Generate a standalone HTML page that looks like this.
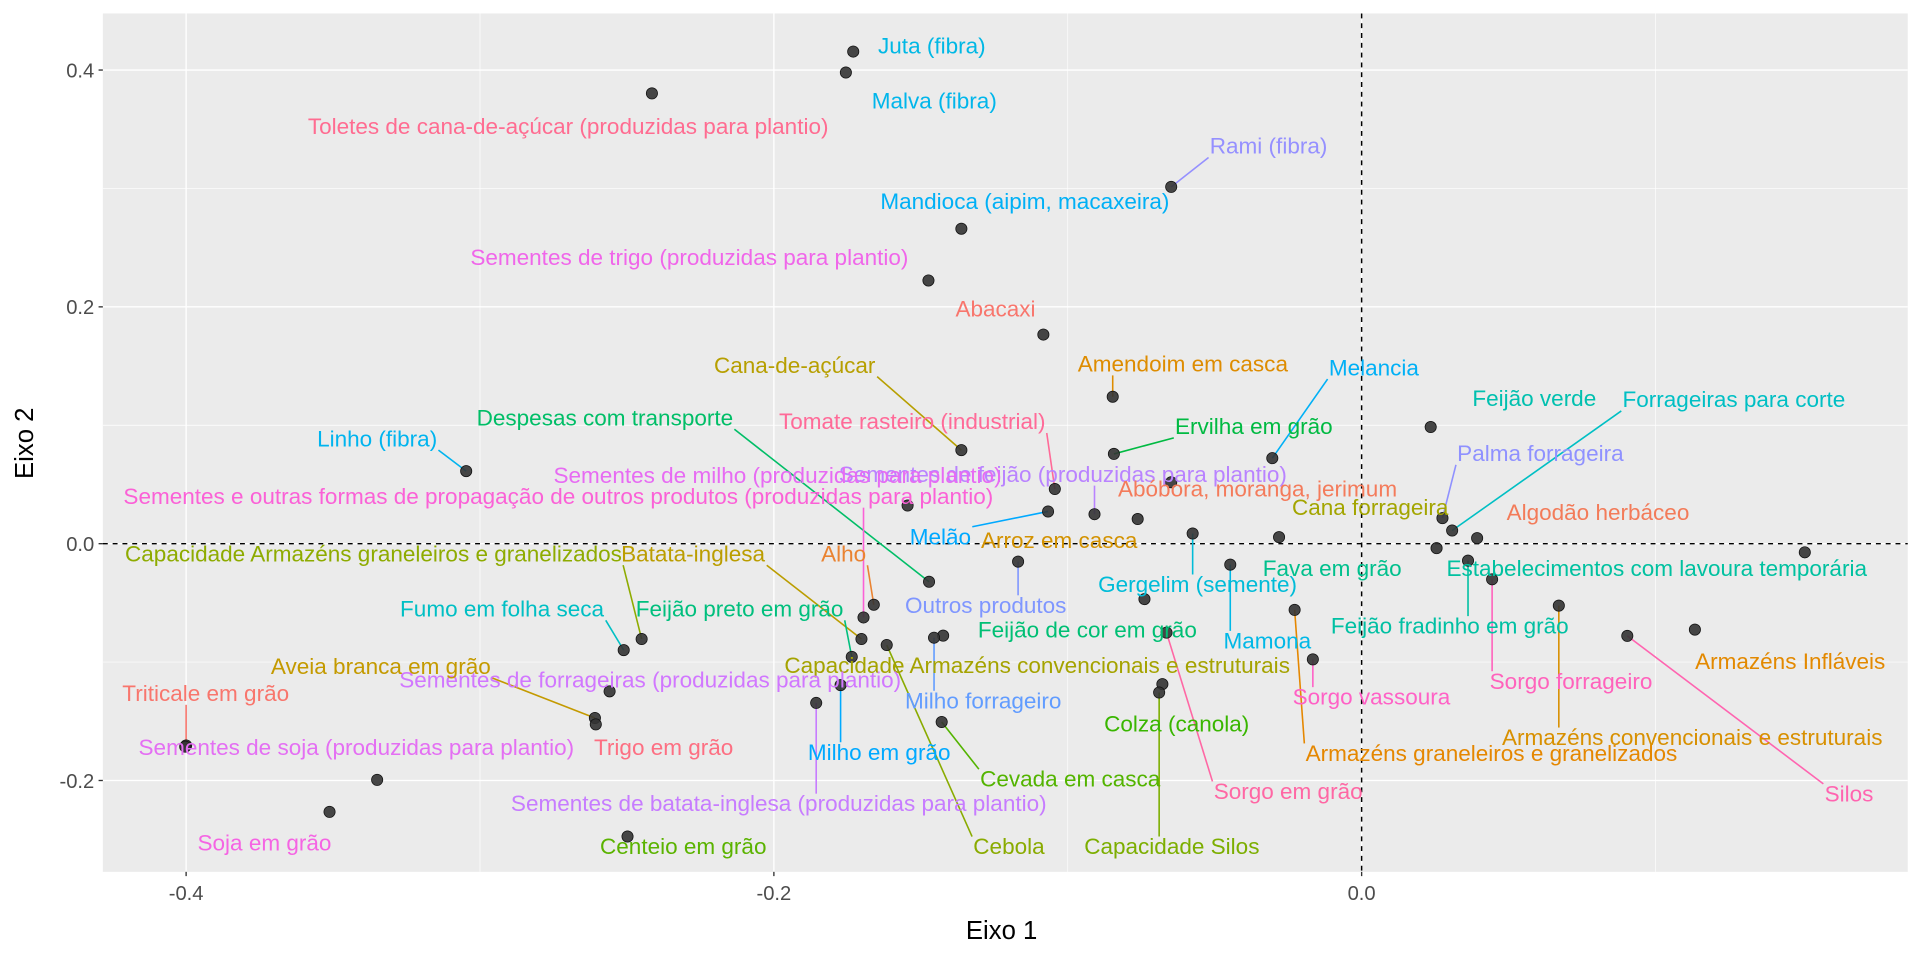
<!DOCTYPE html>
<html><head><meta charset="utf-8"><title>Eixo 1 vs Eixo 2</title>
<style>html,body{margin:0;padding:0;background:#fff;}svg{display:block;font-family:"Liberation Sans",Arial,sans-serif;}</style>
</head><body>
<svg id="chart" width="1920" height="960" viewBox="0 0 1568 784" xmlns="http://www.w3.org/2000/svg">
<rect x="84" y="11" width="1474" height="701" fill="#EBEBEB"/>
<g id="grid"></g>
<g id="axes"></g>
<g id="segs"></g>
<g id="pts"></g>
<g id="labs"></g>
<text x="818" y="767" font-size="21" text-anchor="middle" fill="#000">Eixo 1</text>
<text transform="translate(27,362) rotate(-90)" font-size="21" text-anchor="middle" fill="#000">Eixo 2</text>
</svg>
<script>
const names = ["Juta (fibra)","Malva (fibra)","Toletes de cana-de-açúcar (produzidas para plantio)","Rami (fibra)","Mandioca (aipim, macaxeira)","Sementes de trigo (produzidas para plantio)","Abacaxi","Amendoim em casca","Cana-de-açúcar","Melancia","Feijão verde","Forrageiras para corte","Tomate rasteiro (industrial)","Ervilha em grão","Despesas com transporte","Linho (fibra)","Sementes de feijão (produzidas para plantio)","Palma forrageira","Sementes de milho (produzidas para plantio)","Abóbora, moranga, jerimum","Sementes e outras formas de propagação de outros produtos (produzidas para plantio)","Algodão herbáceo","Cana forrageira","Melão","Arroz em casca","Capacidade Armazéns graneleiros e granelizados","Batata-inglesa","Alho","Outros produtos","Gergelim (semente)","Fava em grão","Estabelecimentos com lavoura temporária","Fumo em folha seca","Feijão preto em grão","Mamona","Feijão de cor em grão","Feijão fradinho em grão","Sorgo forrageiro","Sorgo vassoura","Armazéns Infláveis","Armazéns convencionais e estruturais","Capacidade Armazéns convencionais e estruturais","Sementes de forrageiras (produzidas para plantio)","Aveia branca em grão","Milho forrageiro","Triticale em grão","Colza (canola)","Armazéns graneleiros e granelizados","Silos","Sementes de soja (produzidas para plantio)","Trigo em grão","Milho em grão","Cevada em casca","Sorgo em grão","Sementes de batata-inglesa (produzidas para plantio)","Capacidade Silos","Cebola","Centeio em grão","Soja em grão",""];
const xs = [-0.1730,-0.1755,-0.2415,-0.0648,-0.1362,-0.1474,-0.1083,-0.0847,-0.1362,-0.0304,0.0235,0.0308,-0.1044,-0.0843,-0.1472,-0.3047,-0.0909,0.0275,-0.1545,-0.0648,-0.1695,0.0393,0.0255,-0.1067,-0.0762,-0.2450,-0.1702,-0.1660,-0.1169,-0.0575,-0.0281,0.1508,-0.2511,-0.1735,-0.0447,-0.0739,0.0362,0.0444,-0.0166,0.1134,0.0671,-0.1424,-0.2559,-0.2609,-0.1455,-0.4000,-0.0678,-0.0228,0.0904,-0.4003,-0.2606,-0.1773,-0.1429,-0.0664,-0.1856,-0.0689,-0.1616,-0.2498,-0.3512,-0.3350];
const ys = [0.4156,0.3979,0.3803,0.3013,0.2660,0.2223,0.1766,0.1241,0.0790,0.0722,0.0985,0.0111,0.0462,0.0758,-0.0322,0.0613,0.0249,0.0216,0.0322,0.0519,-0.0623,0.0047,-0.0038,0.0272,0.0208,-0.0805,-0.0805,-0.0516,-0.0152,0.0086,0.0055,-0.0073,-0.0899,-0.0956,-0.0177,-0.0468,-0.0143,-0.0301,-0.0977,-0.0726,-0.0523,-0.0777,-0.1247,-0.1472,-0.0794,-0.1704,-0.1186,-0.0559,-0.0779,-0.1714,-0.1526,-0.1195,-0.1506,-0.0751,-0.1345,-0.1257,-0.0856,-0.2473,-0.2265,-0.1995];
const colors = ["#00B8E5","#00B6EB","#FF6C91","#9590FF","#00B0F6","#F066EA","#F8766D","#DE8C00","#B79F00","#00B0F6","#00C0AF","#00BFC4","#FF6A98","#00BA42","#00BE67","#00B4EF","#B983FF","#8F91FF","#E76BF3","#F47B5B","#FB61D7","#F37B59","#A3A500","#00A9FF","#D39200","#8EAB00","#BB9D00","#EA8331","#7F96FF","#00BCD8","#00C08D","#00C1A0","#00BFC4","#00BF7D","#00B8E7","#00BF74","#00C0A3","#FF62BC","#FF61C6","#E38900","#D89000","#A5A300","#D177FF","#C49A00","#619CFF","#F8766D","#39B600","#E58700","#FF64B0","#E46FF3","#FD6F82","#00A9FF","#53B400","#FF67A4","#C77CFF","#7CAE00","#8AAB00","#5BB300","#F564E3","#000"];
const xTicks = [-0.4,-0.2,0.0];
const xTickLabels = ["-0.4","-0.2","0.0"];
const yTicks = [-0.2,0.0,0.2,0.4];
const yTickLabels = ["-0.2","0.0","0.2","0.4"];
// label layout (repel placement; layout, not data)
const labelPos = [[761,37],[763,82],[464,103],[1036,119],[837,164],[563,210],[813,252],[966,297],[649,298],[1122,300],[1253,325],[1416,326],[745,344],[1024,348],[494,341],[308,358],[868,387],[1258,370],[635,388],[1027,399],[456,405],[1305,418],[1119,414],[768,438],[865,441],[305,452],[566,452],[689,452],[805,494],[978,477],[1088,464],[1353,464],[410,497],[604,497],[1035,523],[888,514],[1184,511],[1283,556],[1120,569],[1462,540],[1382,602],[847,543],[531,555],[311,544],[803,572],[168,566],[961,591],[1218,615],[1510,648],[291,610],[542,610],[718,614],[874,636],[1052,646],[636,656],[957,691],[824,691],[558,691],[216,688],null];
const segFlag = [0,0,0,1,0,0,0,1,1,1,0,1,1,1,1,1,1,1,0,0,1,0,0,1,0,1,1,1,1,1,0,0,1,1,1,0,1,1,1,0,1,0,0,1,1,1,0,1,1,0,0,1,1,1,1,1,1,0,0,0];

const X0=1112, KX=2400, Y0=444, KY=967, L=84, R=1558, T=11, B=712;
const sx = v => X0 + v*KX;
const sy = v => Y0 - v*KY;
const NS="http://www.w3.org/2000/svg";
function mk(tag, attrs, parent){const e=document.createElementNS(NS,tag);for(const k in attrs)e.setAttribute(k,attrs[k]);parent.appendChild(e);return e;}
const grid=document.getElementById('grid'), axes=document.getElementById('axes');
const segs=document.getElementById('segs'), pts=document.getElementById('pts'), labs=document.getElementById('labs');
for(let v=-0.5; v<=0.25; v+=0.1){const p=sx(v); if(p>L&&p<R){const l=mk('line',{x1:p,x2:p,y1:T,y2:B,stroke:'#fff','stroke-width':0.55},grid);

}}
for(let v=-0.3; v<=0.5; v+=0.2){const p=sy(v); if(p>T&&p<B){const l=mk('line',{x1:L,x2:R,y1:p,y2:p,stroke:'#fff','stroke-width':0.55},grid);

}}
xTicks.forEach((v,i)=>{const p=sx(v);
const l=mk('line',{x1:p,x2:p,y1:T,y2:B,stroke:'#fff','stroke-width':1.1},grid);


const t=mk('line',{x1:p,x2:p,y1:B,y2:B+3.5,stroke:'#333','stroke-width':1.1},axes);


const tx=mk('text',{x:p,y:B+23,'font-size':16.5,'text-anchor':'middle',fill:'#4D4D4D'},axes);tx.textContent=xTickLabels[i];

});
yTicks.forEach((v,i)=>{const p=sy(v);
const l=mk('line',{x1:L,x2:R,y1:p,y2:p,stroke:'#fff','stroke-width':1.1},grid);


const t=mk('line',{x1:L-3.5,x2:L,y1:p,y2:p,stroke:'#333','stroke-width':1.1},axes);


const tx=mk('text',{x:L-7,y:p+6,'font-size':16.5,'text-anchor':'end',fill:'#4D4D4D'},axes);tx.textContent=yTickLabels[i];

});
const h=mk('line',{x1:L,x2:R,y1:sy(0),y2:sy(0),stroke:'#000','stroke-width':1.2,'stroke-dasharray':'4,4'},axes);


const vl=mk('line',{x1:sx(0),x2:sx(0),y1:T,y2:B,stroke:'#000','stroke-width':1.2,'stroke-dasharray':'4,4'},axes);


names.forEach((n,i)=>{
 const px=sx(xs[i]), py=sy(ys[i]);
 const c=mk('circle',{cx:px,cy:py,r:4.6,fill:'#333','fill-opacity':0.9,stroke:'#111','stroke-width':0.6},pts);
 
 
 if(!labelPos[i]||!n) return;
 const lx=labelPos[i][0], ly=labelPos[i][1];
 const t=mk('text',{x:lx,y:ly+6.5,'font-size':18.4,'text-anchor':'middle',fill:colors[i]},labs);
 t.textContent=n;
 
 
 if(segFlag[i]){
  const bb=t.getBBox(); const pad=1;
  const bx=Math.max(bb.x-pad,Math.min(px,bb.x+bb.width+pad));
  const by=Math.max(bb.y+2,Math.min(py,bb.y+bb.height-1));
  if(Math.hypot(bx-px,by-py)>6){
   const s=mk('line',{x1:px,y1:py,x2:bx,y2:by,stroke:colors[i],'stroke-width':1.3},segs);
   
   
  }
 }
});
</script>
</body></html>
